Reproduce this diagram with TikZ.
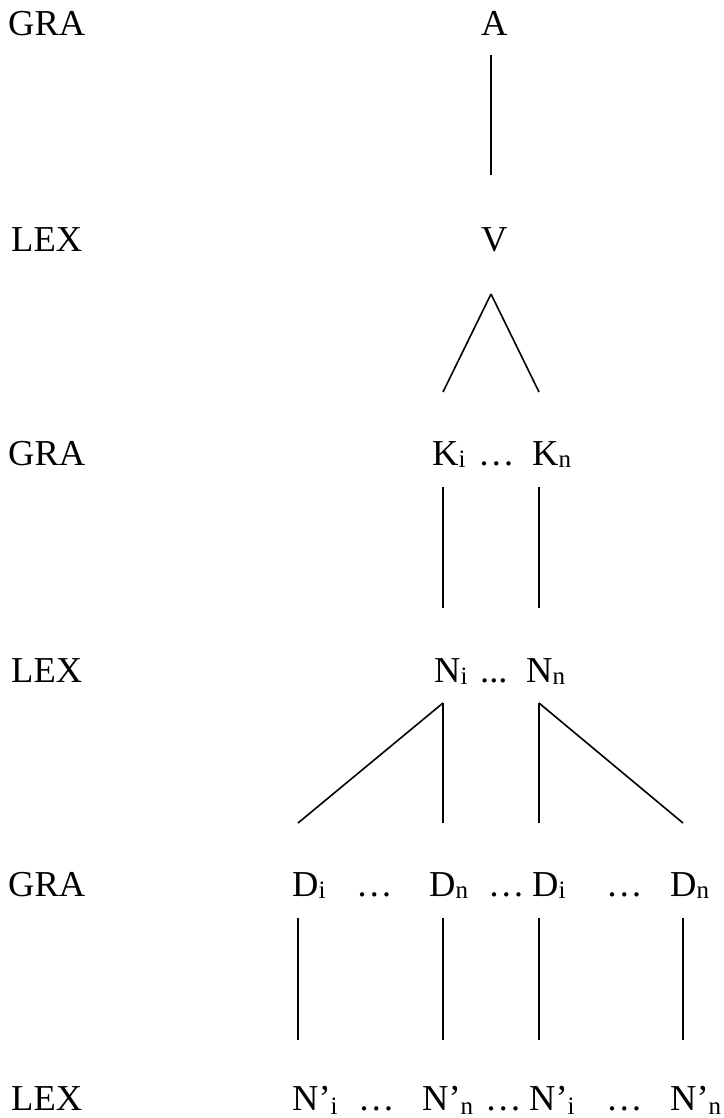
\documentclass[tikz,border=0pt]{standalone}
\usepackage{fontspec}
\setmainfont{Liberation Serif}
\usepackage{tikz}

\newcommand{\lowsub}[2][2pt]{\raisebox{-#1}{\fontsize{25}{25}\selectfont #2}}

\begin{document}
\begin{tikzpicture}[
  x=1pt, y=-1pt,
  lbl/.style={anchor=base west, inner sep=0pt, font=\fontsize{36.5}{40}\selectfont},
  br/.style={line width=1.6pt},
]
\useasboundingbox (0,0) rectangle (723,1118);

%% ---- level labels ----
\node[lbl] (gra1) at (8, 36)   {GRA};
\node[lbl] (lex1) at (11, 251) {LEX};
\node[lbl] (gra2) at (8, 465)  {GRA};
\node[lbl] (lex2) at (11, 682) {LEX};
\node[lbl] (gra3) at (8, 896)  {GRA};
\node[lbl] (lex3) at (11, 1110){LEX};

%% ---- tree nodes ----
\node[lbl] (a)      at (481, 36)  {A};
\node[lbl] (v)      at (481, 251) {V};
\node[lbl] (ki)     at (432, 465) {K\lowsub{i}};
\node[lbl] (kdots)  at (478, 465) {…};
\node[lbl] (kn)     at (532, 465) {K\lowsub{n}};
\node[lbl] (ni)     at (434, 682) {N\lowsub{i}};
\node[lbl] (ndots)  at (480, 682) {...};
\node[lbl] (nn)     at (526, 682) {N\lowsub{n}};
\node[lbl] (di1)    at (292, 896) {D\lowsub{i}};
\node[lbl] (ddots1) at (356, 896) {…};
\node[lbl] (dn1)    at (429, 896) {D\lowsub{n}};
\node[lbl] (ddots2) at (488, 896) {…};
\node[lbl] (di2)    at (532, 896) {D\lowsub{i}};
\node[lbl] (ddots3) at (606, 896) {…};
\node[lbl] (dn2)    at (670, 896) {D\lowsub{n}};
\node[lbl] (npi1)   at (292, 1110) {N’\lowsub[4pt]{i}};
\node[lbl] (npdots1) at (358, 1110) {…};
\node[lbl] (npn1)   at (422, 1110) {N’\lowsub[4pt]{n}};
\node[lbl] (npdots2) at (485, 1110) {…};
\node[lbl] (npi2)   at (529, 1110) {N’\lowsub[4pt]{i}};
\node[lbl] (npdots3) at (606, 1110) {…};
\node[lbl] (npn2)   at (670, 1110) {N’\lowsub[4pt]{n}};

%% ---- branch ends ----
\coordinate (a-lo)    at (491, 55);
\coordinate (v-hi)    at (491, 175);
\coordinate (v-root)  at (491, 294);
\coordinate (ki-hi)   at (443, 392);
\coordinate (kn-hi)   at (539, 392);
\coordinate (ki-lo)   at (443, 487);
\coordinate (kn-lo)   at (539, 487);
\coordinate (ni-hi)   at (443, 608);
\coordinate (nn-hi)   at (539, 608);
\coordinate (ni-root) at (443, 703);
\coordinate (nn-root) at (539, 703);
\coordinate (d1-hi)   at (298, 823);
\coordinate (d2-hi)   at (443, 823);
\coordinate (d3-hi)   at (539, 823);
\coordinate (d4-hi)   at (683, 823);
\coordinate (d1-lo)   at (298, 918);
\coordinate (d2-lo)   at (443, 918);
\coordinate (d3-lo)   at (539, 918);
\coordinate (d4-lo)   at (683, 918);
\coordinate (np1-hi)  at (298, 1040);
\coordinate (np2-hi)  at (443, 1040);
\coordinate (np3-hi)  at (539, 1040);
\coordinate (np4-hi)  at (683, 1040);

%% ---- branches ----
\draw[br] (a-lo) -- (v-hi);
\draw[br] (v-root) -- (ki-hi);
\draw[br] (v-root) -- (kn-hi);
\draw[br] (ki-lo) -- (ni-hi);
\draw[br] (kn-lo) -- (nn-hi);
\draw[br] (ni-root) -- (d1-hi);
\draw[br] (ni-root) -- (d2-hi);
\draw[br] (nn-root) -- (d3-hi);
\draw[br] (nn-root) -- (d4-hi);
\draw[br] (d1-lo) -- (np1-hi);
\draw[br] (d2-lo) -- (np2-hi);
\draw[br] (d3-lo) -- (np3-hi);
\draw[br] (d4-lo) -- (np4-hi);

\end{tikzpicture}
\end{document}
